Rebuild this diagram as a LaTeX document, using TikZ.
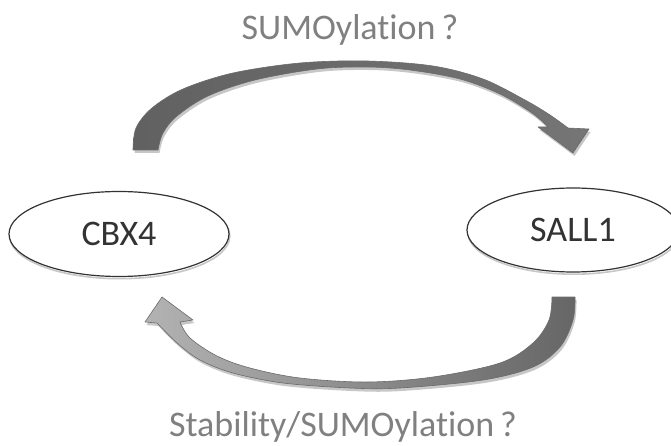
\documentclass[tikz,border=0pt]{standalone}
\usepackage{fontspec}
\setmainfont{Carlito}[RawFeature=-liga]
\usetikzlibrary{shapes.geometric,shadows}

% Outline of the upper curved block arrow (tail on the left, head on the right)
\newcommand\UpperArrowPath{%
  (133,150) -- plot[smooth,tension=0.55] coordinates {(133,150) (136,128) (152,108) (183,89) (233,73) (300,63) (367,61) (433,66) (483,79) (525,100) (550,115) (568,128)}
  -- (589,129) -- (573,153) -- (538,127)
  -- plot[smooth,tension=0.55] coordinates {(548,127) (532,113) (500,94) (460,79) (410,70) (367,67) (317,69) (255,80) (208,96) (177,116) (163,133) (158,150)}
  -- cycle}

% Outline of the lower curved block arrow (tail on the right, head on the left)
\newcommand\LowerArrowPath{%
  (575,297) -- plot[smooth,tension=0.55] coordinates {(575,297) (573,320) (560,347) (533,367) (483,380) (400,388) (350,388) (283,383) (233,373) (200,360) (177,343) (157,323)}
  -- (145,322) -- (162,297) -- (193,320)
  -- plot[smooth,tension=0.55] coordinates {(180,322) (190,338) (217,356) (250,368) (300,378) (367,382) (433,377) (500,363) (533,343) (549,320) (552,297)}
  -- cycle}

\tikzset{
  protein/.style={ellipse, draw=black!80, fill=white, line width=1.2pt, inner sep=0pt,
    text=black!80, font=\fontsize{36}{40}\selectfont,
    drop shadow={shadow xshift=0.8pt, shadow yshift=-2.2pt, fill=none, draw=black!22, line width=1.6pt, opacity=1}},
  caption/.style={text=black!50, font=\fontsize{36}{40}\selectfont, inner sep=0pt},
  arrowshadow/.style={fill=black!22},
  arrowline/.style={draw=black!58, line width=0.6pt, line join=round}
}

\begin{document}
\begin{tikzpicture}[x=1pt,y=-1pt]
  \useasboundingbox (0,0) rectangle (671,446);

  % block arrows with their soft shadows
  \fill[arrowshadow, shift={(1.5,3)}] \UpperArrowPath;
  \path[arrowline, left color=black!62, right color=black!54] \UpperArrowPath;
  \fill[arrowshadow, shift={(1.5,3)}] \LowerArrowPath;
  \path[arrowline, left color=black!30, right color=black!60] \LowerArrowPath;

  % proteins
  \node[protein, minimum width=220pt, minimum height=85pt] (cbx) at (119,234) {CBX4};
  \node[protein, minimum width=212pt, minimum height=84pt] (sall) at (573,230) {SALL1};

  % labels
  \node[caption] (top) at (350,30) {SUMOylation\,?};
  \node[caption] (bot) at (343,427) {Stability/SUMOylation\,?};
\end{tikzpicture}
\end{document}
